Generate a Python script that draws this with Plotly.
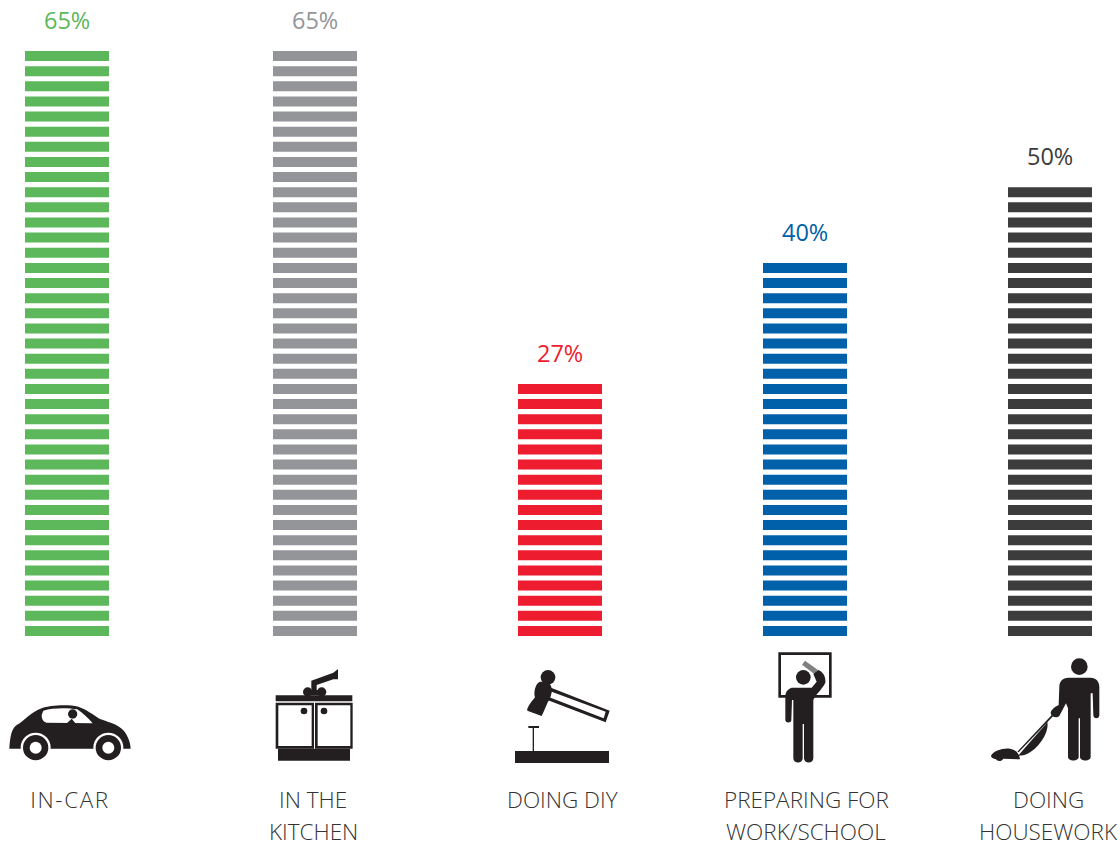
import re
import plotly.graph_objects as go

CATEGORIES = ["IN-CAR", "IN THE KITCHEN", "DOING DIY", "PREPARING FOR WORK/SCHOOL", "DOING HOUSEWORK"]
VALUES = [65, 65, 27, 40, 50]
SEGMENTS = [39, 39, 17, 25, 30]
VALUE_LABELS = ["65%", "65%", "27%", "40%", "50%"]
COLORS = ["#5CB85A", "#939598", "#ED1C2E", "#0060A9", "#3C3C3C"]
LABEL_LINES = [["IN-CAR"], ["IN THE", "KITCHEN"], ["DOING DIY"], ["PREPARING FOR", "WORK/SCHOOL"], ["DOING", "HOUSEWORK"]]

W, H = 1120, 843
BAR_CENTERS = [67, 315, 560, 805, 1050]
LABEL_CENTERS = [69.5, 313, 562, 806, 1048]
BAR_W = 84
PITCH = 15.13
BASE_PX = 636
SEG_PX = 10
FONT = "Open Sans"

fig = go.Figure()
for c, n, col, name in zip(BAR_CENTERS, SEGMENTS, COLORS, CATEGORIES):
    fig.add_bar(x=[c] * n, y=[SEG_PX / PITCH] * n, base=list(range(n)), width=BAR_W,
                marker=dict(color=col, line=dict(width=0)), name=name, showlegend=False,
                hoverinfo="skip")

ann = []
for c, n, col, t in zip(BAR_CENTERS, SEGMENTS, COLORS, VALUE_LABELS):
    ann.append(dict(x=c, y=n - 1 + SEG_PX / PITCH + 31 / PITCH, text=t, showarrow=False, xref="x", yref="y",
                    xanchor="center", yanchor="middle",
                    font=dict(family=FONT, size=23.5, color=col, weight=400)))
for c, lines in zip(LABEL_CENTERS, LABEL_LINES):
    for i, line in enumerate(lines):
        ann.append(dict(x=c / W, y=1 - (799 + 32 * i) / H, text=line, showarrow=False, xref="paper", yref="paper",
                        xanchor="center", yanchor="middle",
                        font=dict(family=FONT, size=22.5, color="#333333", weight=300)))

# icons drawn as decorative shapes; coordinates in crop space (3x) with an origin offset
def tf(path, ox, oy):
    nums = iter(re.findall(r"[A-Za-z]|-?\d+\.?\d*", path))
    out, is_x = [], True
    for tok in nums:
        if tok.isalpha():
            out.append(tok)
            is_x = True
        else:
            v = float(tok)
            if is_x:
                out.append(f"{(ox + v / 3) / W:.5f},")
            else:
                out.append(f"{1 - (oy + v / 3) / H:.5f}")
            is_x = not is_x
    return " ".join(out).replace(", ", ",")

shapes = []
def P(path, o, fill="#231F20"):
    shapes.append(dict(type="path", xref="paper", yref="paper", path=tf(path, *o), fillcolor=fill,
                       line=dict(width=0), layer="above"))
def R(x0, y0, x1, y1, o, fill="#231F20"):
    P(f"M{x0},{y0} L{x1},{y0} L{x1},{y1} L{x0},{y1} Z", o, fill)
def C(cx, cy, r, o, fill="#231F20"):
    shapes.append(dict(type="circle", xref="paper", yref="paper",
                       x0=(o[0] + (cx - r) / 3) / W, x1=(o[0] + (cx + r) / 3) / W,
                       y0=1 - (o[1] + (cy + r) / 3) / H, y1=1 - (o[1] + (cy - r) / 3) / H,
                       fillcolor=fill, line=dict(width=0), layer="above"))

A = (0, 640)
# car
P("M28,326 C30,290 35,265 50,255 C70,245 95,215 125,205 C150,195 205,193 235,200 C260,208 280,225 300,237 "
  "C330,248 365,255 380,285 C388,300 392,315 392,326 Z", A)
P("M130,212 C160,203 200,203 232,208 C250,220 265,235 278,250 L140,248 C128,245 125,235 125,225 Z", A, "#FFFFFF")
C(218, 222, 14, A)
P("M198,252 L215,236 L228,252 Z", A)
for cx in (107, 325):
    C(cx, 323, 45, A, "#FFFFFF")
    C(cx, 323, 38, A)
    C(cx, 323, 18, A, "#FFFFFF")
# kitchen
R(827, 166, 1057, 184, A)
R(827, 188, 942, 326, A); R(835, 196, 935, 318, A, "#FFFFFF")
R(945, 188, 1058, 326, A); R(953, 196, 1051, 318, A, "#FFFFFF")
R(834, 326, 1050, 362, A)
C(912, 213, 10, A); C(972, 213, 10, A)
C(923, 156, 14, A); C(965, 156, 14, A)
R(925, 150, 965, 166, A)
P("M934,150 L934,122 L1000,98 L1014,87 L1014,118 L1000,118 L950,135 L950,150 Z", A)

B = (490, 640)
# hammer
R(75, 333, 357, 369, B)
R(128, 262, 132, 333, B)
R(115, 258, 147, 264, B)
P("M183,143 L359,212 L347,247 L172,180 Z", B)
P("M185,155 L347,215 L341,235 L178,172 Z", B, "#FFFFFF")
C(174, 112, 22, B)
P("M150,125 C135,130 130,160 135,172 C120,190 110,205 112,212 L155,228 C165,210 170,190 180,175 "
  "C190,150 185,130 170,125 Z", B)
# person at mirror
R(865, 37, 1025, 173, B); R(873, 45, 1017, 165, B, "#FFFFFF")
P("M945,62 L984,90 L973,102 L936,74 Z", B, "#808080")
C(940, 112, 22, B)
P("M905,143 C890,148 886,160 886,170 L886,240 C886,250 904,250 904,240 L906,180 L910,180 L910,355 "
  "C910,372 938,372 938,355 L938,252 L942,252 L942,355 C942,372 970,372 970,355 L970,180 "
  "C975,165 995,150 1006,128 C1008,112 1000,95 985,90 L970,102 L980,125 L965,143 Z", B)

D = (960, 640)
# vacuuming person
C(358, 80, 25, D)
P("M325,113 L392,113 C408,113 418,125 418,140 L418,225 C418,238 400,238 400,225 L398,160 L392,160 L392,350 "
  "C392,365 360,365 360,350 L360,235 L356,235 L356,350 C356,365 324,365 324,350 L324,205 L318,190 L298,228 "
  "C290,235 275,232 272,220 C272,210 285,200 296,195 L298,140 C298,125 308,113 325,113 Z", D)
P("M278,222 L282,226 L176,337 L172,335 Z", D)
P("M262,245 C268,275 240,320 205,340 C195,346 185,347 175,347 L182,338 L255,255 Z", D)
P("M93,347 C100,332 130,323 150,326 C170,329 178,342 180,358 L130,356 C125,365 112,365 108,358 "
  "C100,356 93,352 93,347 Z", D)

fig.update_layout(
    width=W, height=H, autosize=False,
    margin=dict(l=0, r=0, t=0, b=0),
    paper_bgcolor="white", plot_bgcolor="white",
    barmode="overlay", showlegend=False,
    xaxis=dict(range=[0, W], visible=False, fixedrange=True),
    yaxis=dict(range=[-(H - BASE_PX) / PITCH, BASE_PX / PITCH], visible=False, fixedrange=True),
    annotations=ann, shapes=shapes,
)
fig.write_html("out.html", config={"displayModeBar": False},
               post_script="document.body.style.margin='0';document.body.style.overflow='hidden';"
                           "document.querySelectorAll('.annotation-text').forEach(function(t){"
                           "if(t.textContent==='IN-CAR'){t.style.letterSpacing='1.6px';}});")
